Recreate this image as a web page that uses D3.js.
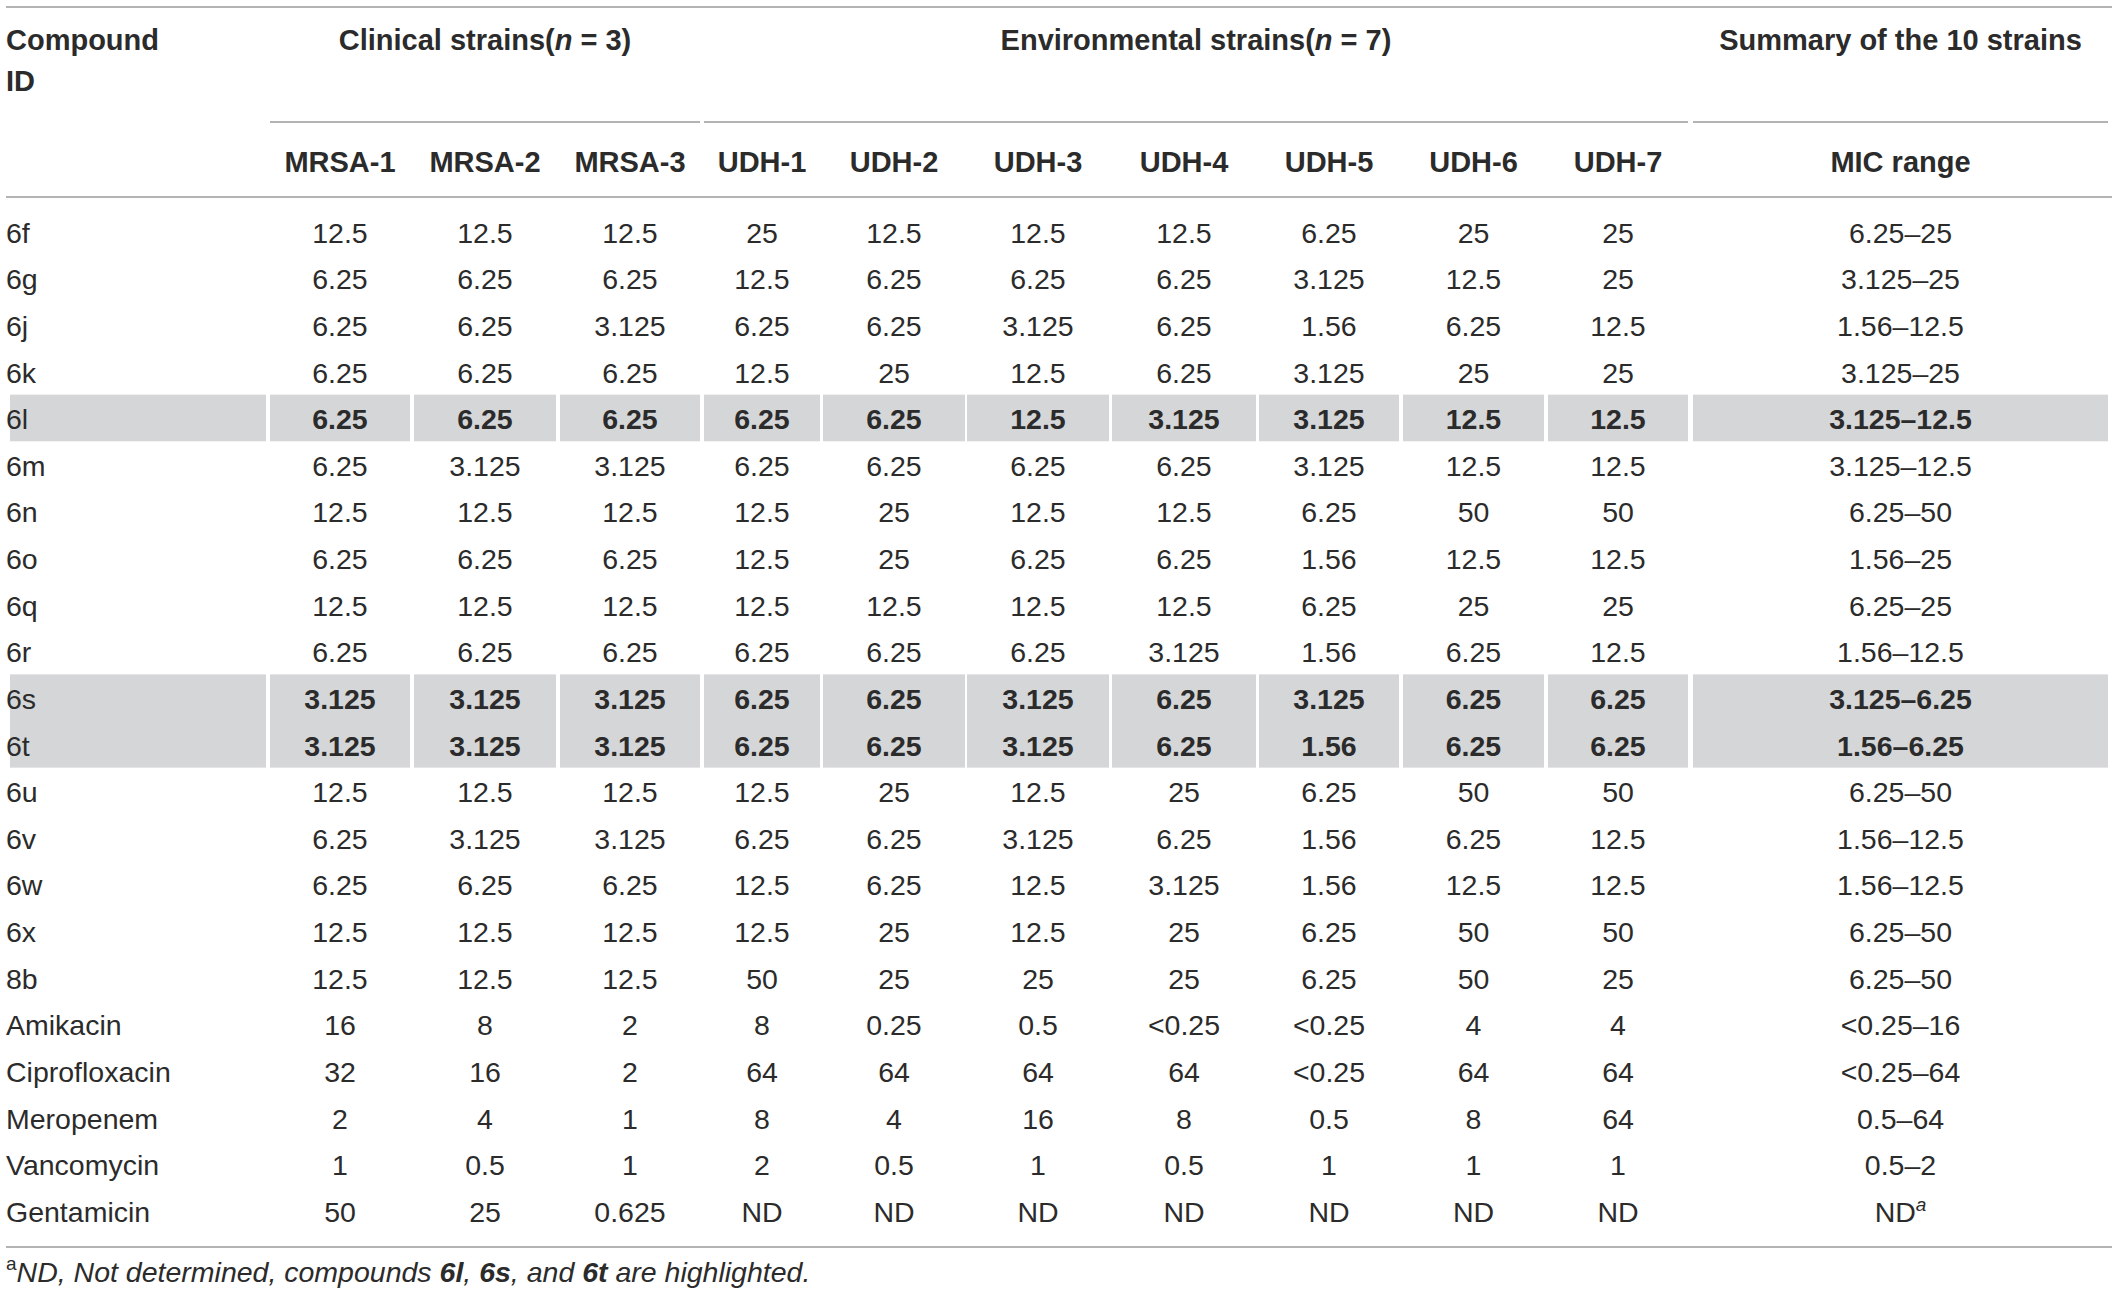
<!DOCTYPE html>
<html>
<head>
<meta charset="utf-8">
<script src="https://cdn.jsdelivr.net/npm/d3@7"></script>
<style>
  html, body { margin: 0; padding: 0; background: #fff; }
</style>
</head>
<body>
<div id="workspace"></div>
<script>
// ---- data ----
var strains = ["MRSA-1","MRSA-2","MRSA-3","UDH-1","UDH-2","UDH-3","UDH-4","UDH-5","UDH-6","UDH-7"];
var compounds = ["6f","6g","6j","6k","6l","6m","6n","6o","6q","6r","6s","6t","6u","6v","6w","6x","8b",
  "Amikacin","Ciprofloxacin","Meropenem","Vancomycin","Gentamicin"];
var mic = [
  ["12.5","12.5","12.5","25","12.5","12.5","12.5","6.25","25","25"],
  ["6.25","6.25","6.25","12.5","6.25","6.25","6.25","3.125","12.5","25"],
  ["6.25","6.25","3.125","6.25","6.25","3.125","6.25","1.56","6.25","12.5"],
  ["6.25","6.25","6.25","12.5","25","12.5","6.25","3.125","25","25"],
  ["6.25","6.25","6.25","6.25","6.25","12.5","3.125","3.125","12.5","12.5"],
  ["6.25","3.125","3.125","6.25","6.25","6.25","6.25","3.125","12.5","12.5"],
  ["12.5","12.5","12.5","12.5","25","12.5","12.5","6.25","50","50"],
  ["6.25","6.25","6.25","12.5","25","6.25","6.25","1.56","12.5","12.5"],
  ["12.5","12.5","12.5","12.5","12.5","12.5","12.5","6.25","25","25"],
  ["6.25","6.25","6.25","6.25","6.25","6.25","3.125","1.56","6.25","12.5"],
  ["3.125","3.125","3.125","6.25","6.25","3.125","6.25","3.125","6.25","6.25"],
  ["3.125","3.125","3.125","6.25","6.25","3.125","6.25","1.56","6.25","6.25"],
  ["12.5","12.5","12.5","12.5","25","12.5","25","6.25","50","50"],
  ["6.25","3.125","3.125","6.25","6.25","3.125","6.25","1.56","6.25","12.5"],
  ["6.25","6.25","6.25","12.5","6.25","12.5","3.125","1.56","12.5","12.5"],
  ["12.5","12.5","12.5","12.5","25","12.5","25","6.25","50","50"],
  ["12.5","12.5","12.5","50","25","25","25","6.25","50","25"],
  ["16","8","2","8","0.25","0.5","<0.25","<0.25","4","4"],
  ["32","16","2","64","64","64","64","<0.25","64","64"],
  ["2","4","1","8","4","16","8","0.5","8","64"],
  ["1","0.5","1","2","0.5","1","0.5","1","1","1"],
  ["50","25","0.625","ND","ND","ND","ND","ND","ND","ND"]
];
var micRange = ["6.25\u201325","3.125\u201325","1.56\u201312.5","3.125\u201325","3.125\u201312.5","3.125\u201312.5",
  "6.25\u201350","1.56\u201325","6.25\u201325","1.56\u201312.5","3.125\u20136.25","1.56\u20136.25","6.25\u201350",
  "1.56\u201312.5","1.56\u201312.5","6.25\u201350","6.25\u201350","<0.25\u201316","<0.25\u201364","0.5\u201364",
  "0.5\u20132","ND"];
var highlighted = ["6l","6s","6t"];
var groups = [
  {pre: "Clinical strains(", n: "n", post: " = 3)", from: 1, to: 3},
  {pre: "Environmental strains(", n: "n", post: " = 7)", from: 4, to: 10},
  {pre: "Summary of the 10 strains", n: "", post: "", from: 11, to: 11}
];

// ---- layout (left/right edge of each column, first is compound ID, last is MIC range) ----
var colEdges = [[10,266],[270,410],[414,556],[560,700],[704,820],[823,965],[967,1109],
  [1112,1256],[1259,1399],[1403,1544],[1548,1688],[1693,2108]];
var font = "'Liberation Sans', Arial, sans-serif";
var ink = "#2b2b2b";
var ruleColor = "#b3b3b3";
var fs = 28.5, fsHead = 29;

var svg = d3.select("#workspace")
  .append("svg")
  .attr("width", 2118)
  .attr("height", 1298);

var y = d3.scaleLinear().domain([0, compounds.length - 1]).range([232.5, 1211.5]);
var step = y(1) - y(0);
var cx = function(i) { return (colEdges[i][0] + colEdges[i][1]) / 2; };

function rule(x1, x2, yy) {
  svg.append("line")
    .attr("x1", x1).attr("x2", x2)
    .attr("y1", yy).attr("y2", yy)
    .attr("stroke", ruleColor)
    .attr("stroke-width", 2);
}

// highlight bands
compounds.forEach(function(c, r) {
  if (highlighted.indexOf(c) < 0) return;
  colEdges.forEach(function(e) {
    svg.append("rect")
      .attr("x", e[0])
      .attr("y", y(r) - step / 2 - 1)
      .attr("width", e[1] - e[0])
      .attr("height", step)
      .attr("fill", "#d5d6d8");
  });
});

// rules
rule(6, 2112, 7);
rule(6, 2112, 197);
rule(6, 2112, 1247);
groups.forEach(function(g) {
  rule(colEdges[g.from][0], colEdges[g.to][1], 122);
});

// header texts
svg.append("text")
  .attr("x", 6).attr("y", 40).attr("dy", "0.36em")
  .attr("font-family", font).attr("font-size", fsHead).attr("font-weight", "bold")
  .attr("fill", ink)
  .text("Compound");
svg.append("text")
  .attr("x", 6).attr("y", 81).attr("dy", "0.36em")
  .attr("font-family", font).attr("font-size", fsHead).attr("font-weight", "bold")
  .attr("fill", ink)
  .text("ID");

groups.forEach(function(g) {
  var t = svg.append("text")
    .attr("x", (colEdges[g.from][0] + colEdges[g.to][1]) / 2)
    .attr("y", 40).attr("dy", "0.36em")
    .attr("text-anchor", "middle")
    .attr("font-family", font).attr("font-size", fsHead).attr("font-weight", "bold")
    .attr("fill", ink);
  t.append("tspan").text(g.pre);
  if (g.n) {
    t.append("tspan").attr("font-style", "italic").text(g.n);
    t.append("tspan").text(g.post);
  }
});

strains.concat(["MIC range"]).forEach(function(s, i) {
  svg.append("text")
    .attr("x", cx(i + 1)).attr("y", 162).attr("dy", "0.36em")
    .attr("text-anchor", "middle")
    .attr("font-family", font).attr("font-size", fsHead).attr("font-weight", "bold")
    .attr("fill", ink)
    .text(s);
});

// body
var rows = svg.selectAll("g.row")
  .data(compounds)
  .enter().append("g")
  .attr("class", "row")
  .attr("transform", function(d, r) { return "translate(0," + y(r) + ")"; });

rows.append("text")
  .attr("x", 6).attr("dy", "0.36em")
  .attr("font-family", font).attr("font-size", fs)
  .attr("fill", ink)
  .text(function(d) { return d; });

rows.each(function(c, r) {
  var g = d3.select(this);
  var bold = highlighted.indexOf(c) >= 0;
  mic[r].concat([micRange[r]]).forEach(function(v, j) {
    var t = g.append("text")
      .attr("x", cx(j + 1)).attr("dy", "0.36em")
      .attr("text-anchor", "middle")
      .attr("font-family", font).attr("font-size", fs)
      .attr("font-weight", bold ? "bold" : "normal")
      .attr("fill", ink);
    t.append("tspan").text(v);
    if (c === "Gentamicin" && j === 10) {
      t.append("tspan").attr("font-style", "italic").attr("font-size", 19)
        .attr("dy", "-0.55em").text("a");
    }
  });
});

// footnote
var fn = svg.append("text")
  .attr("x", 6).attr("y", 1278).attr("dy", "0.36em")
  .attr("font-family", font).attr("font-size", 28.5)
  .attr("fill", ink);
fn.append("tspan").attr("font-size", 19).attr("dy", "-0.4em").text("a");
fn.append("tspan").attr("font-style", "italic").attr("dy", "0.4em").text("ND, Not determined, compounds ");
fn.append("tspan").attr("font-style", "italic").attr("font-weight", "bold").text("6l");
fn.append("tspan").attr("font-style", "italic").text(", ");
fn.append("tspan").attr("font-style", "italic").attr("font-weight", "bold").text("6s");
fn.append("tspan").attr("font-style", "italic").text(", and ");
fn.append("tspan").attr("font-style", "italic").attr("font-weight", "bold").text("6t");
fn.append("tspan").attr("font-style", "italic").text(" are highlighted.");
</script>
</body>
</html>
